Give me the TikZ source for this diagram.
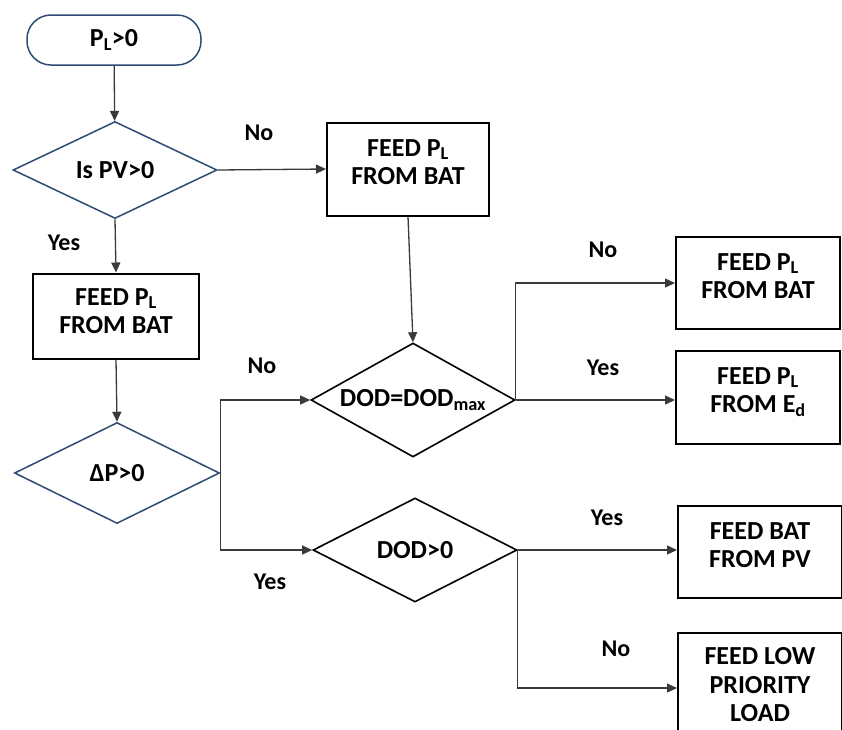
\documentclass[tikz,border=0pt]{standalone}
\usepackage{fontspec}
\setmainfont{Carlito}
\usetikzlibrary{shapes.geometric,arrows.meta}
\definecolor{bluec}{HTML}{2F4B75}
\definecolor{linec}{HTML}{3A3A3A}
\begin{document}
\begin{tikzpicture}[x=1pt,y=-1pt,
  every node/.style={font=\bfseries\fontsize{26}{28.5}\selectfont, align=center, inner sep=0pt},
  procbox/.style={draw=black, line width=2pt, minimum width=164pt, minimum height=92pt, text depth=14pt},
  termbox/.style={draw=bluec, line width=1.5pt, rounded corners=24pt, minimum width=174pt, minimum height=50pt},
  decblue/.style={diamond, aspect=1.8, draw=bluec, line width=1.5pt},
  decblack/.style={diamond, aspect=1.8, draw=black, line width=1.6pt},
  conn/.style={draw=linec, line width=1.3pt, -{Triangle[length=10pt,width=9pt]}},
  lbl/.style={font=\bfseries\fontsize{24}{26}\selectfont}
]
\fill[white] (0,0) rectangle (842,729);
\useasboundingbox (0,0) rectangle (842,729);

\node[termbox] (start) at (114,40) {P\textsubscript{L}>0};
\node[decblue, minimum width=204pt, minimum height=97pt] (d1) at (115,170) {Is PV>0};
\node[procbox, minimum width=162pt, minimum height=93pt] (b2) at (408,169) {FEED P\textsubscript{L}\\FROM BAT};
\node[procbox, minimum width=166pt, minimum height=85pt, text depth=10pt] (b1) at (116,316) {FEED P\textsubscript{L}\\FROM BAT};
\node[decblue, minimum width=205pt, minimum height=101pt] (d2) at (117,473) {ΔP>0};
\node[decblack, minimum width=204pt, minimum height=114pt] (d3) at (413,400) {DOD=DOD\textsubscript{max}};
\node[decblack, minimum width=204pt, minimum height=104pt] (d4) at (415,550) {DOD>0};
\node[procbox] (b3) at (758,283) {FEED P\textsubscript{L}\\FROM BAT};
\node[procbox, minimum height=93pt] (b4) at (758,397) {FEED P\textsubscript{L}\\FROM E\textsubscript{d}};
\node[procbox] (b5) at (760,552) {FEED BAT\\FROM PV};
\node[procbox, minimum height=104pt, text depth=] (b6) at (760,685) {FEED LOW\\PRIORITY\\LOAD};

\node[lbl] (l1) at (259,133) {No};
\node[lbl] (l2) at (64,243) {Yes};
\node[lbl] (l3) at (262,366) {No};
\node[lbl] (l4) at (270,582) {Yes};
\node[lbl] (l5) at (603,250) {No};
\node[lbl] (l6) at (603,368) {Yes};
\node[lbl] (l7) at (607,518) {Yes};
\node[lbl] (l8) at (616,649) {No};

\draw[conn] (start) -- (d1);
\draw[conn] (d1.east) -- (b2.west);
\draw[conn] (d1.south) -- (b1.north);
\draw[conn] (b1.south) -- (d2.north);
\draw[conn] (d2.east) |- (d3.west);
\draw[conn] (d2.east) |- (d4.west);
\draw[conn] (b2.south) -- (d3.north);
\draw[conn] (d3.east) -- (d3.east -| b4.west);
\draw[conn] (d3.east) |- (b3.west);
\draw[conn] (d4.east) -- (d4.east -| b5.west);
\draw[conn] (d4.east) |- ([yshift=-3pt]b6.west);
\end{tikzpicture}
\end{document}
